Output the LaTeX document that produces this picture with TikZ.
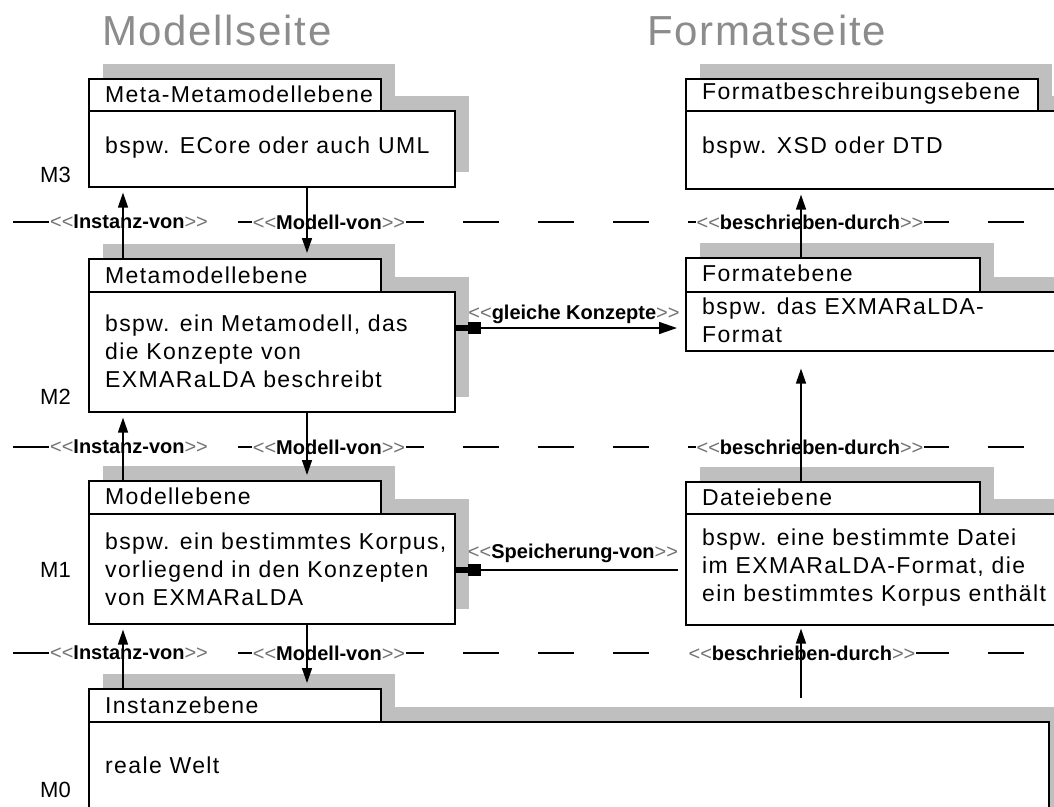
\documentclass[tikz,border=0pt]{standalone}
\usepackage{fontspec}
\setmainfont{Liberation Sans}
\newfontfamily\boxfam[LetterSpace=6]{Liberation Sans}
\newfontfamily\titlefam[LetterSpace=4]{Liberation Sans}
\usetikzlibrary{arrows.meta,shadows}
\newcommand\LLt{{\color{black!55}\mdseries<\kern0pt<}}
\newcommand\RRt{{\color{black!55}\mdseries>\kern0pt>}}
\newcommand\stereo[1]{\LLt\textbf{#1}\RRt}
\tikzset{
  x=1pt, y=-1pt,
  shadowed/.style={drop shadow={shadow xshift=14pt, shadow yshift=15pt, shadow scale=1, fill=black!25, opacity=1, draw=none}},
  umlbox/.style={draw=black, line width=1.6pt, fill=white, inner sep=0pt, anchor=north west, shadowed},
  boxtext/.style={anchor=west, inner sep=0pt, align=left, font=\boxfam\fontsize{23}{28}\selectfont},
  lvltext/.style={anchor=west, inner sep=0pt, font=\fontsize{22}{24}\selectfont},
  titletext/.style={anchor=base west, inner sep=0pt, text=black!45, font=\titlefam\fontsize{42}{46}\selectfont},
  steretext/.style={inner sep=1pt, font=\fontsize{20}{22}\selectfont},
  sepline/.style={line width=1.5pt, dash pattern=on 36pt off 39pt},
  conn/.style={line width=1.5pt},
  uparr/.style={conn, -{Triangle[length=15pt,width=10pt]}, shorten >=5pt}
}
\begin{document}
\begin{tikzpicture}
\useasboundingbox (0,0) rectangle (1054,806);
\clip (0,0) rectangle (1054,806);
\fill[white] (0,0) rectangle (1054,806);

% titles
\node[titletext] (tm) at (102,45) {Modellseite};
\node[titletext] (tf) at (647,45) {Formatseite};

% level labels
\node[lvltext] (m3) at (40,175) {M3};
\node[lvltext] (m2) at (40,397) {M2};
\node[lvltext] (m1) at (40,570) {M1};
\node[lvltext] (m0) at (40,790) {M0};

% left boxes
\node[umlbox, minimum width=366pt, minimum height=76pt] (b3) at (88,110) {};
\node[umlbox, minimum width=292pt, minimum height=32pt] (t3) at (88,78) {};
\node[umlbox, minimum width=366pt, minimum height=120pt] (b2) at (88,291) {};
\node[umlbox, minimum width=292pt, minimum height=33pt] (t2) at (88,258) {};
\node[umlbox, minimum width=366pt, minimum height=110pt] (b1) at (88,513) {};
\node[umlbox, minimum width=292pt, minimum height=33pt] (t1) at (88,480) {};
\node[umlbox, minimum width=960pt, minimum height=130pt] (b0) at (88,721) {};
\node[umlbox, minimum width=292pt, minimum height=33pt] (t0) at (88,688) {};

% right boxes
\node[umlbox, minimum width=420pt, minimum height=78pt] (f3) at (685,110) {};
\node[umlbox, minimum width=352pt, minimum height=32pt] (g3) at (685,78) {};
\node[umlbox, minimum width=420pt, minimum height=59pt] (f2) at (685,291) {};
\node[umlbox, minimum width=294pt, minimum height=34pt] (g2) at (685,257) {};
\node[umlbox, minimum width=420pt, minimum height=111pt] (f1) at (685,513) {};
\node[umlbox, minimum width=294pt, minimum height=32pt] (g1) at (685,481) {};

% box texts
\node[boxtext] (t3x) at (105,94) {Meta-Metamodellebene};
\node[boxtext] (b3x) at (105,148) {bspw. ECore oder auch UML};
\node[boxtext] (t2x) at (105,275) {Metamodellebene};
\node[boxtext] (b2x) at (105,351) {bspw. ein Metamodell, das\\die Konzepte von\\EXMARaLDA beschreibt};
\node[boxtext] (t1x) at (105,496) {Modellebene};
\node[boxtext] (b1x) at (105,569) {bspw. ein bestimmtes Korpus,\\vorliegend in den Konzepten\\von EXMARaLDA};
\node[boxtext] (t0x) at (105,705) {Instanzebene};
\node[boxtext] (b0x) at (105,765) {reale Welt};
\node[boxtext] (g3x) at (702,94) {Formatbeschreibungsebene};
\node[boxtext] (f3x) at (702,148) {bspw. XSD oder DTD};
\node[boxtext] (g2x) at (702,273) {Formatebene};
\node[boxtext] (f2x) at (702,320) {bspw. das EXMARaLDA-\\Format};
\node[boxtext] (g1x) at (702,497) {Dateiebene};
\node[boxtext] (f1x) at (702,568) {bspw. eine bestimmte Datei\\im EXMARaLDA-Format, die\\ein bestimmtes Korpus enthält};

% level separators
\foreach \yy/\nm in {222/a,447/b,653/c} {
  \coordinate (sl\nm) at (13,\yy);
  \coordinate (sr\nm) at (1030,\yy);
  \draw[sepline] (sl\nm) -- (sr\nm);
}
\node[steretext, fill=white] (ia) at (129,222) {\stereo{Instanz-von}};
\node[steretext, fill=white] (ma) at (329,222) {\stereo{Modell-von}};
\node[steretext, fill=white] (da) at (810,222) {\stereo{beschrieben-durch}};
\node[steretext, fill=white] (ib) at (129,447) {\stereo{Instanz-von}};
\node[steretext, fill=white] (mb) at (329,447) {\stereo{Modell-von}};
\node[steretext, fill=white] (db) at (810,447) {\stereo{beschrieben-durch}};
\node[steretext, fill=white] (ic) at (129,653) {\stereo{Instanz-von}};
\node[steretext, fill=white] (mc) at (329,653) {\stereo{Modell-von}};
\node[steretext, fill=white] (dc) at (802,653) {\stereo{beschrieben-durch}};

% connector anchors
\coordinate (ix) at (123,0);
\coordinate (mx) at (307,0);
\coordinate (fx) at (801,0);
\coordinate (gk) at (0,328);
\coordinate (sp) at (0,570);

% vertical connectors
\draw[uparr] (t2.north -| ix) -- (b3.south -| ix);
\draw[uparr] (t1.north -| ix) -- (b2.south -| ix);
\draw[uparr] (t0.north -| ix) -- (b1.south -| ix);
\draw[uparr] (b3.south -| mx) -- (t2.north -| mx);
\draw[uparr] (b2.south -| mx) -- (t1.north -| mx);
\draw[uparr] (b1.south -| mx) -- (t0.north -| mx);
\draw[uparr] (g2.north -| fx) -- (f3.south -| fx);
\draw[uparr, shorten >=17pt] (g1.north -| fx) -- (f2.south -| fx);
\draw[uparr, shorten <=23pt, shorten >=3pt] (b0.north -| fx) -- (f1.south -| fx);

% horizontal connectors
\draw[conn, {Rectangle[length=12pt,width=6pt,sep=0pt]Square[length=13pt,width=12pt]}-{Triangle[length=18pt,width=12pt]}, shorten >=8pt]
  (b2.east |- gk) -- (f2.west |- gk);
\node[steretext] (gkl) at (574,314) {\stereo{gleiche Konzepte}};
\draw[conn, -{Square[length=13pt,width=12pt,sep=0pt]Rectangle[length=12pt,width=6pt]}, shorten <=7pt]
  (f1.west |- sp) -- (b1.east |- sp);
\node[steretext] (spl) at (573,553) {\stereo{Speicherung-von}};
\end{tikzpicture}
\end{document}
